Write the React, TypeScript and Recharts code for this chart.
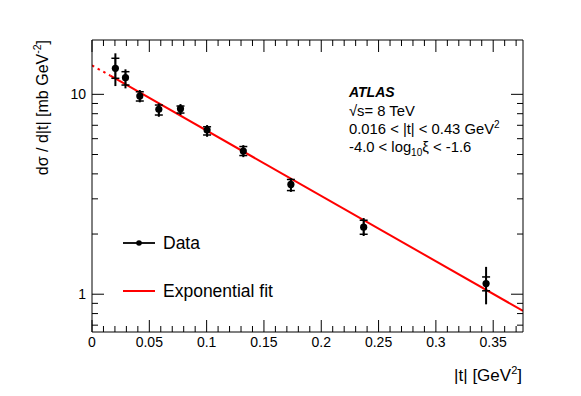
import React from 'react';
import { ComposedChart, Scatter, Line, XAxis, YAxis, ErrorBar } from 'recharts';

// |t| values (GeV^2) and dσ/d|t| (mb GeV^-2)
const tValues = [0.0204, 0.0292, 0.0417, 0.0583, 0.0772, 0.1004, 0.132, 0.1735, 0.237, 0.3438];
const sigmaValues = [13.5, 12.11, 9.81, 8.41, 8.46, 6.63, 5.2, 3.54, 2.165, 1.13];
const totErrDown = [2.5, 1.4, 0.69, 0.69, 0.58, 0.5, 0.35, 0.29, 0.21, 0.24];
const totErrUp = [2.54, 1.23, 0.7, 0.6, 0.48, 0.39, 0.37, 0.27, 0.24, 0.24];
const statErrDown = [1.47, 0.98, 0.55, 0.53, 0.4, 0.37, 0.26, 0.24, 0.17, 0.09];
const statErrUp = [1.65, 0.87, 0.49, 0.43, 0.28, 0.25, 0.28, 0.21, 0.18, 0.09];

// exponential fit (straight on the log axis): extrapolated (dashed) and fitted (solid) ranges
const fitDashedT = [0, 0.016];
const fitDashedSigma = [13.97, 12.39];
const fitSolidT = [0.016, 0.376];
const fitSolidSigma = [12.39, 0.825];

const xTicks = [
  0, 0.01, 0.02, 0.03, 0.04, 0.05, 0.06, 0.07, 0.08, 0.09, 0.1, 0.11, 0.12, 0.13, 0.14, 0.15,
  0.16, 0.17, 0.18, 0.19, 0.2, 0.21, 0.22, 0.23, 0.24, 0.25, 0.26, 0.27, 0.28, 0.29, 0.3, 0.31,
  0.32, 0.33, 0.34, 0.35, 0.36, 0.37,
];
const xMajorLabels = ['0', '0.05', '0.1', '0.15', '0.2', '0.25', '0.3', '0.35'];
const yTicks = [0.7, 0.8, 0.9, 1, 2, 3, 4, 5, 6, 7, 8, 9, 10];
const yMajorLabels = ['1', '10'];

const xDomain: [number, number] = [0, 0.376];
const yDomain: [number, number] = [0.647, 18.7];

const FONT = '"Liberation Sans", Arial, Helvetica, sans-serif';

const points = tValues.map((t, i) => ({
  t,
  sigma: sigmaValues[i],
  totErr: [totErrDown[i], totErrUp[i]],
  statErr: [statErrDown[i], statErrUp[i]],
}));
const fitDashed = fitDashedT.map((t, i) => ({ t, sigma: fitDashedSigma[i] }));
const fitSolid = fitSolidT.map((t, i) => ({ t, sigma: fitSolidSigma[i] }));

const fmtX = (v: number) => String(Math.round(v * 100) / 100);

const makeXTick = (side: 'top' | 'bottom') => (props: any) => {
  const { x, y, payload } = props;
  const v = payload.value as number;
  const label = fmtX(v);
  const major = xMajorLabels.includes(label);
  const len = major ? 12 : 6;
  const dir = side === 'bottom' ? -1 : 1;
  return (
    <g>
      <line x1={x} x2={x} y1={y} y2={y + dir * len} stroke="#000" strokeWidth={1} />
      {side === 'bottom' && major ? (
        <text x={x} y={y + 15} textAnchor="middle" fontSize={14} fontFamily={FONT} fill="#000">
          {label}
        </text>
      ) : null}
    </g>
  );
};

const makeYTick = (side: 'left' | 'right') => (props: any) => {
  const { x, y, payload } = props;
  const v = payload.value as number;
  const label = String(v);
  const major = yMajorLabels.includes(label);
  const len = major ? 12 : 6;
  const dir = side === 'left' ? 1 : -1;
  return (
    <g>
      <line x1={x} x2={x + dir * len} y1={y} y2={y} stroke="#000" strokeWidth={1} />
      {side === 'left' && major ? (
        <text x={x - 6} y={y + 5} textAnchor="end" fontSize={14} fontFamily={FONT} fill="#000">
          {label}
        </text>
      ) : null}
    </g>
  );
};

const Dot = (props: any) => <circle cx={props.cx} cy={props.cy} r={3.6} fill="#000" />;

export default function App() {
  return (
    <div style={{ position: 'absolute', left: 0, top: 0, width: 581, height: 396, background: '#fff' }}>
      <ComposedChart width={581} height={396} margin={{ top: 39, right: 57, bottom: 63, left: 91 }}>
        <XAxis
          xAxisId={0}
          dataKey="t"
          type="number"
          domain={xDomain}
          allowDataOverflow
          ticks={xTicks}
          interval={0}
          height={1}
          tickLine={false}
          tickSize={0}
          tickMargin={0}
          axisLine={{ stroke: '#000', strokeWidth: 1 }}
          tick={makeXTick('bottom')}
        />
        <XAxis
          xAxisId="top"
          orientation="top"
          dataKey="t"
          type="number"
          domain={xDomain}
          allowDataOverflow
          ticks={xTicks}
          interval={0}
          height={1}
          tickLine={false}
          tickSize={0}
          tickMargin={0}
          axisLine={{ stroke: '#000', strokeWidth: 1 }}
          tick={makeXTick('top')}
        />
        <YAxis
          yAxisId={0}
          type="number"
          scale="log"
          domain={yDomain}
          allowDataOverflow
          ticks={yTicks}
          interval={0}
          width={1}
          tickLine={false}
          tickSize={0}
          tickMargin={0}
          axisLine={{ stroke: '#000', strokeWidth: 1 }}
          tick={makeYTick('left')}
        />
        <YAxis
          yAxisId="right"
          orientation="right"
          type="number"
          scale="log"
          domain={yDomain}
          allowDataOverflow
          ticks={yTicks}
          interval={0}
          width={1}
          tickLine={false}
          tickSize={0}
          tickMargin={0}
          axisLine={{ stroke: '#000', strokeWidth: 1 }}
          tick={makeYTick('right')}
        />
        <Line
          data={fitDashed}
          dataKey="sigma"
          type="linear"
          stroke="#ff0000"
          strokeWidth={2}
          strokeDasharray="2.5 4"
          dot={false}
          activeDot={false}
          isAnimationActive={false}
        />
        <Line
          data={fitSolid}
          dataKey="sigma"
          type="linear"
          stroke="#ff0000"
          strokeWidth={2}
          dot={false}
          activeDot={false}
          isAnimationActive={false}
        />
        <Scatter data={points} dataKey="sigma" shape={Dot} isAnimationActive={false}>
          <ErrorBar dataKey="totErr" direction="y" width={0} stroke="#000" strokeWidth={2} />
          <ErrorBar dataKey="statErr" direction="y" width={4} stroke="#000" strokeWidth={1.5} />
        </Scatter>
      </ComposedChart>
      <svg
        width={581}
        height={396}
        style={{ position: 'absolute', left: 0, top: 0, pointerEvents: 'none' }}
        fontFamily={FONT}
      >
        <text x={522} y={381} textAnchor="end" fontSize={17} fill="#000">
          |t| [GeV<tspan dy={-7} fontSize={11}>2</tspan>
          <tspan dy={7}>]</tspan>
        </text>
        <text x={47.5} y={40} textAnchor="end" fontSize={16} fill="#000" transform="rotate(-90 47.5 40)">
          dσ / d|t| [mb GeV<tspan dy={-6.5} fontSize={10.5}>-2</tspan>
          <tspan dy={6.5}>]</tspan>
        </text>
        <line x1={123} x2={155} y1={243} y2={243} stroke="#000" strokeWidth={1.8} />
        <circle cx={139} cy={243} r={2.8} fill="#000" />
        <text x={163} y={249} fontSize={17.5} fill="#000">Data</text>
        <line x1={123} x2={155} y1={291} y2={291} stroke="#ff0000" strokeWidth={2} />
        <text x={163} y={297} fontSize={17.5} fill="#000">Exponential fit</text>
        <text x={349} y={97} fontSize={14} fontWeight="bold" fontStyle="italic" fill="#000">ATLAS</text>
        <text x={349} y={116} fontSize={14.8} fill="#000">√s= 8 TeV</text>
        <text x={349} y={134} fontSize={14.8} fill="#000">
          0.016 &lt; |t| &lt; 0.43 GeV<tspan dy={-6} fontSize={10}>2</tspan>
        </text>
        <text x={349} y={152} fontSize={14.8} fill="#000">
          -4.0 &lt; log<tspan dy={4} fontSize={10}>10</tspan>
          <tspan dy={-4}>ξ &lt; -1.6</tspan>
        </text>
      </svg>
    </div>
  );
}
